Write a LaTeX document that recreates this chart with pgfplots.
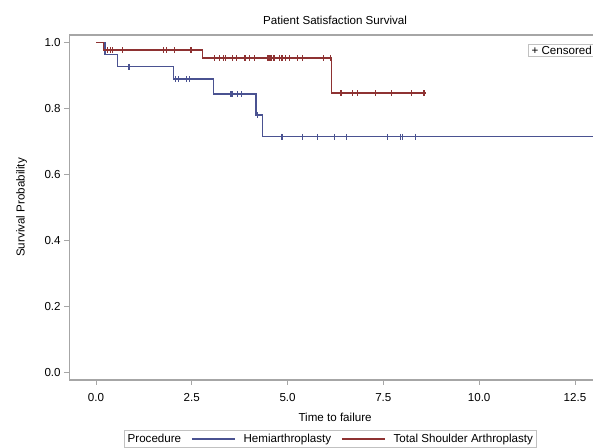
\documentclass[border=0pt]{standalone}
\usepackage{fontspec}
\setmainfont{Liberation Sans}
\usepackage{pgfplots}
\pgfplotsset{compat=1.18}
\definecolor{hemi}{HTML}{4A5291}
\definecolor{tsa}{HTML}{8E3232}
\definecolor{framegray}{HTML}{A6A6A6}
\begin{document}
\begin{tikzpicture}[font=\fontsize{11.6}{13.5}\selectfont]
\begin{axis}[
  scale only axis, width=531.8pt, height=345pt,
  xmin=-0.7, xmax=13.18, ymin=-0.022, ymax=1.022,
  clip=false,
  axis line style={framegray, line width=1.3pt},
  tick style={framegray, line width=0.8pt},
  tick align=outside, major tick length=5pt,
  xtick pos=bottom, ytick pos=left,
  xtick={0,2.5,5,7.5,10,12.5}, ytick={0,0.2,0.4,0.6,0.8,1.0},
  ticklabel style={/pgf/number format/.cd, fixed, fixed zerofill, precision=1, assume math mode=true, /tikz/.cd},
  xticklabel style={/tikz/yshift=-5pt},
  title={Patient Satisfaction Survival},
  title style={at={(0.5,1.026)}, anchor=center},
  xlabel={Time to failure}, xlabel style={at={(0.5,-0.109)}, anchor=center},
  ylabel={Survival Probability}, ylabel style={at={(-0.0893,0.5)}, anchor=center},
  legend columns=-1,
  legend style={at={(0.491,-0.171)}, anchor=center, draw=framegray!70, line width=0.8pt,
    inner sep=1.5pt, /tikz/every even column/.append style={column sep=8pt}},
  legend image code/.code={\draw[#1] (0pt,0pt) -- (43pt,0pt); \path (49pt,0pt);},
]
\addlegendimage{empty legend}
\addlegendentry{Procedure\hspace{18pt}}

% step curves
\addplot[hemi, line width=1.4pt, const plot] coordinates {
  (0,1) (0.235,0.963) (0.56,0.926) (2.03,0.889) (3.07,0.843)
  (4.18,0.780) (4.35,0.714) (13.18,0.714)};
\addlegendentry{Hemiarthroplasty}
\addplot[tsa, line width=1.4pt, const plot] coordinates {
  (0,1) (0.19,0.977) (2.78,0.952) (6.14,0.846) (8.62,0.846)};
\addlegendentry{Total Shoulder Arthroplasty}

% censored
\addplot[hemi, only marks, mark=|, mark size=2.8pt, mark options={line width=1.1pt}, forget plot] coordinates {
  (0.86,0.926)
  (2.08,0.889) (2.15,0.889) (2.37,0.889) (2.45,0.889)
  (3.50,0.843) (3.53,0.843) (3.57,0.843) (3.69,0.843) (3.80,0.843)
  (4.21,0.780)
  (4.84,0.714) (4.86,0.714) (5.40,0.714) (5.78,0.714) (6.23,0.714) (6.53,0.714)
  (7.61,0.714) (7.94,0.714) (8.00,0.714) (8.35,0.714)};
\addplot[tsa, only marks, mark=|, mark size=2.8pt, mark options={line width=1.1pt}, forget plot] coordinates {
  (0.30,0.977) (0.38,0.977) (0.44,0.977) (0.69,0.977) (1.77,0.977) (1.85,0.977) (2.04,0.977) (2.48,0.977)
  (3.09,0.952) (3.22,0.952) (3.32,0.952) (3.38,0.952) (3.56,0.952) (3.67,0.952) (3.89,0.952) (4.01,0.952) (4.13,0.952)
  (4.48,0.952) (4.51,0.952) (4.54,0.952) (4.57,0.952) (4.63,0.952) (4.67,0.952)
  (4.80,0.952) (4.84,0.952) (4.86,0.952) (4.95,0.952) (5.04,0.952) (5.27,0.952) (5.40,0.952) (5.93,0.952) (6.11,0.952)
  (6.37,0.846) (6.40,0.846) (6.70,0.846) (6.82,0.846) (7.30,0.846) (7.72,0.846) (8.24,0.846) (8.56,0.846)};

\node[draw=framegray!70, line width=0.8pt, anchor=west, inner xsep=3pt, inner ysep=1.5pt, fill=white]
  at (axis cs:11.28,0.975) {+ Censored};

\coordinate (BL) at (rel axis cs:-0.1301,-0.1971);
\coordinate (TR) at (rel axis cs:0.9850,1.1014);
\end{axis}
\pgfresetboundingbox
\path[use as bounding box] (BL) rectangle (TR);
\end{tikzpicture}
\end{document}
